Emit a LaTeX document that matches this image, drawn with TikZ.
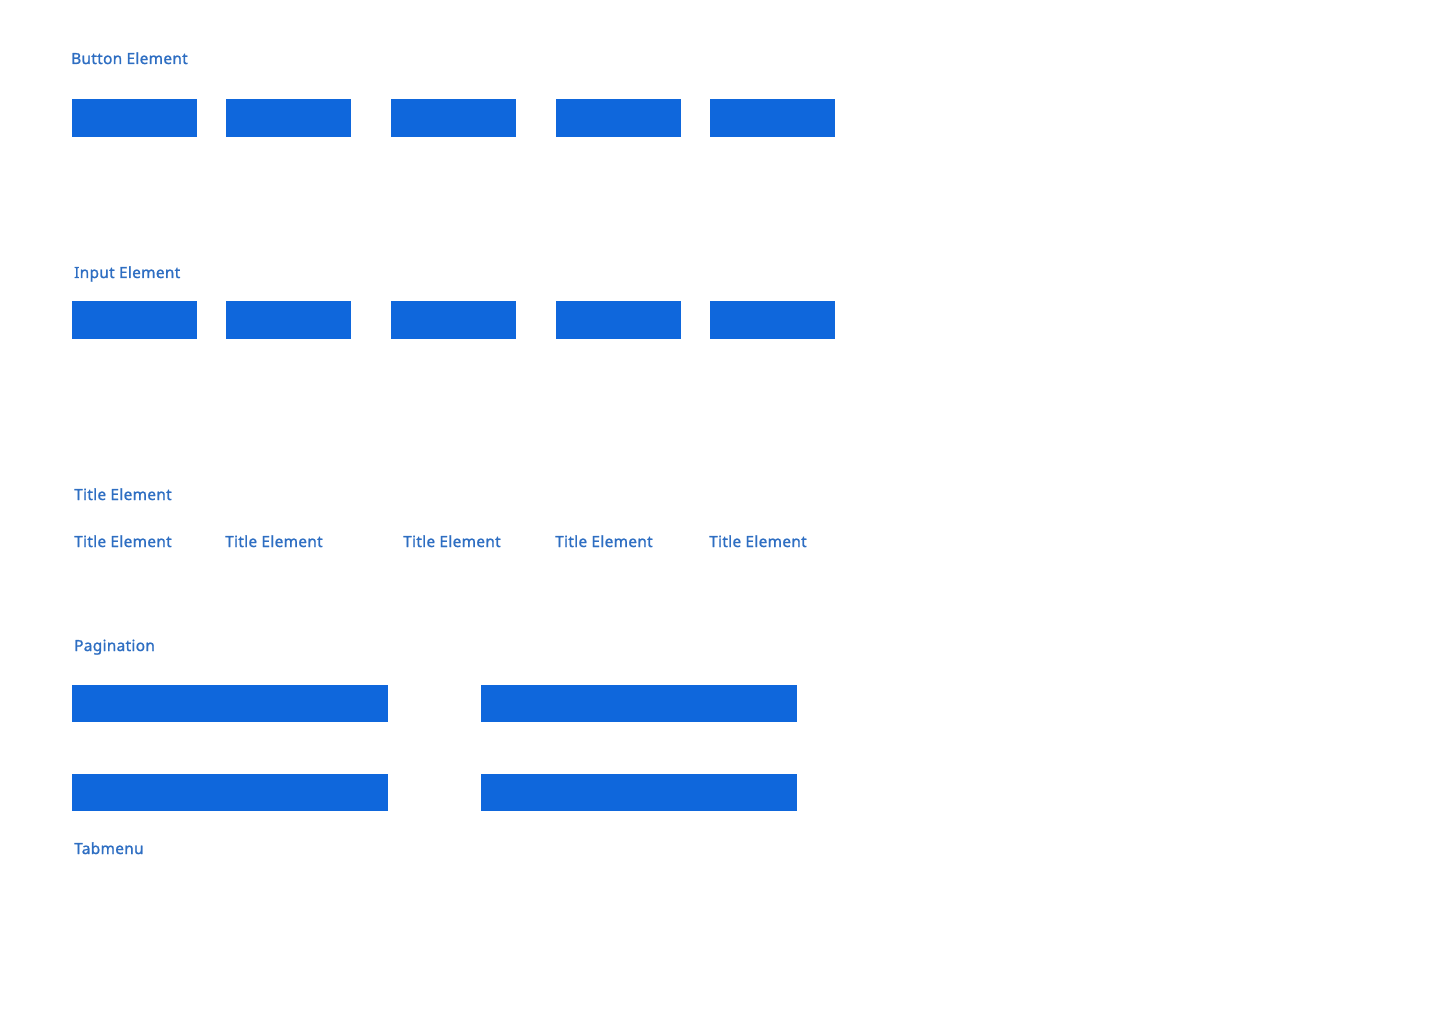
\documentclass[tikz,border=0pt]{standalone}
\usepackage{fontspec}
\setmainfont{Noto Sans}[FakeBold=1.3,LetterSpace=2]
\usepackage{tikz}
\definecolor{boxblue}{HTML}{0F67DC}
\definecolor{labelblue}{HTML}{2E6EC2}
\tikzset{
  elem/.style={fill=boxblue, draw=none, inner sep=0pt, anchor=north west, minimum width=125pt, minimum height=38pt},
  wideelem/.style={elem, minimum width=316pt, minimum height=37pt},
  caption/.style={text=labelblue, inner sep=0pt, anchor=base west, font=\fontsize{15.4}{17}\selectfont\bfseries}
}

\begin{document}
\begin{tikzpicture}[x=1pt,y=-1pt]
  \useasboundingbox (0,0) rectangle (1440,1024);
  \draw (71,64) node[caption] (button) {Button Element};
    \draw (72,99) node[elem] (button1) {};
    \draw (226,99) node[elem] (button2) {};
    \draw (391,99) node[elem] (button3) {};
    \draw (556,99) node[elem] (button4) {};
    \draw (710,99) node[elem] (button5) {};

  \draw (74,278) node[caption] (input) {Input Element};
    \draw (72,301) node[elem] (input1) {};
    \draw (226,301) node[elem] (input2) {};
    \draw (391,301) node[elem] (input3) {};
    \draw (556,301) node[elem] (input4) {};
    \draw (710,301) node[elem] (input5) {};

  \draw (74,500) node[caption] (title) {Title Element};
    \draw (74,547) node[caption] (title1) {Title Element};
    \draw (225,547) node[caption] (title2) {Title Element};
    \draw (403,547) node[caption] (title3) {Title Element};
    \draw (555,547) node[caption] (title4) {Title Element};
    \draw (709,547) node[caption] (title5) {Title Element};

  \draw (74,651) node[caption] (pagination) {Pagination};
    \draw (72,685) node[wideelem] (page1) {};
    \draw (481,685) node[wideelem] (page2) {};
    \draw (72,774) node[wideelem] (page3) {};
    \draw (481,774) node[wideelem] (page4) {};

  \draw (74,854) node[caption] (tabmenu) {Tabmenu};
\end{tikzpicture}
\end{document}
